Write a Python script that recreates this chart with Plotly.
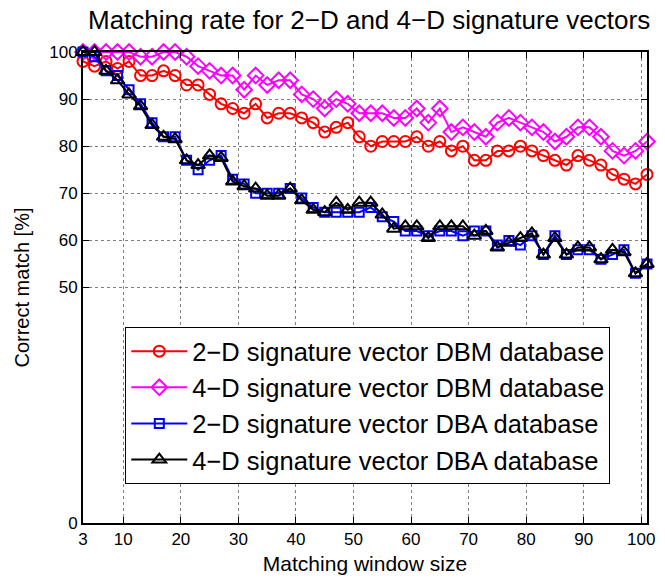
import plotly.graph_objects as go

window = list(range(3, 102, 2))

dbm_2d = [98, 97, 98, 96.5, 98, 95, 95, 96, 95, 93, 93, 91, 89, 88, 87, 89, 86, 87, 87, 86,
          85, 83, 84, 85, 82, 80, 81, 81, 81, 82, 80, 81, 79, 80, 77, 77, 79, 79, 80, 79,
          78, 77, 76, 78, 77, 76, 74, 73, 72, 74]
dbm_4d = [100, 100, 100, 100, 100, 99, 99, 100, 100, 99, 97, 96, 95, 95, 92, 95, 93, 94, 94, 91,
          90, 88, 90, 89, 87, 87, 87, 86, 86, 88, 85, 88, 83, 84, 83, 82, 85, 86, 85, 84,
          83, 81, 82, 84, 84, 82, 79, 78, 79, 81]
dba_2d = [100, 99, 96, 95, 92, 89, 85, 82, 82, 77, 75, 77, 78, 73, 72, 70, 70, 70, 71, 69,
          67, 66, 66, 66, 66, 67, 65, 64, 62, 62, 61, 62, 62, 61, 62, 62, 59, 60, 59, 61,
          57, 61, 57, 58, 58, 56, 57, 58, 53, 55]
dba_4d = [100, 100, 96, 94, 91, 88.5, 84.5, 82, 81.5, 77, 76, 78, 77.5, 72.5, 71.5, 71, 69.5, 69.5, 71, 68.5,
          66.5, 66, 68, 66.5, 68, 68, 65.5, 62.5, 63, 63, 60.5, 63, 63, 63, 61, 62, 58.5, 59.5, 60.5, 61.5,
          57, 60.5, 57, 58.5, 58.5, 56, 58, 57.5, 53, 55]

names = ["2\u2212D signature vector DBM database",
         "4\u2212D signature vector DBM database",
         "2\u2212D signature vector DBA database",
         "4\u2212D signature vector DBA database"]
series = [dbm_2d, dbm_4d, dba_2d, dba_4d]
colors = ["#ff0000", "#ff00ff", "#0000ff", "#000000"]
symbols = ["circle-open", "diamond-open", "square-open", "triangle-up-open"]
sizes = [11, 12, 9, 12]

x_ticks = [3, 10, 20, 30, 40, 50, 60, 70, 80, 90, 100]
y_ticks = [0, 50, 60, 70, 80, 90, 100]

FONT = "Liberation Sans, Arial, Helvetica, sans-serif"

fig = go.Figure()
for name, ys, c, s, sz in zip(names, series, colors, symbols, sizes):
    fig.add_trace(go.Scatter(
        x=window, y=ys, name=name, mode="lines+markers",
        line=dict(color=c, width=2),
        marker=dict(symbol=s, size=sz, color=c, line=dict(color=c, width=2)),
        cliponaxis=False,
    ))

axis_common = dict(
    showline=True, linecolor="black", linewidth=2, mirror="ticks",
    ticks="inside", ticklen=6, tickcolor="black", tickwidth=1,
    showgrid=True, gridcolor="rgba(0,0,0,0.5)", griddash="dot", gridwidth=1,
    zeroline=False, automargin=False,
    tickfont=dict(size=17, color="black", family=FONT),
)

fig.update_xaxes(range=[3, 101], tickmode="array", tickvals=x_ticks,
                 ticktext=[str(v) for v in x_ticks],
                 title=dict(text="Matching window size", font=dict(size=21, color="black", family=FONT), standoff=8),
                 **axis_common)
fig.update_yaxes(range=[0, 100], tickmode="array", tickvals=y_ticks,
                 ticktext=[str(v) for v in y_ticks],
                 title=dict(text="Correct match [%]", font=dict(size=20, color="black", family=FONT), standoff=14),
                 **axis_common)

fig.update_layout(
    width=665, height=579,
    margin=dict(l=83, r=18, t=52, b=56),
    paper_bgcolor="white", plot_bgcolor="white",
    font=dict(family=FONT, color="black"),
    title=dict(text="Matching rate for 2\u2212D and 4\u2212D signature vectors",
               x=0.555, xanchor="center", y=0.965, yanchor="middle",
               font=dict(size=26, color="black", family=FONT)),
    legend=dict(x=0.075, y=0.416, xanchor="left", yanchor="top",
                bgcolor="white", bordercolor="black", borderwidth=1,
                font=dict(size=25.5, color="black", family=FONT),
                itemwidth=56),
    showlegend=True,
)

fig.write_html("out.html")
